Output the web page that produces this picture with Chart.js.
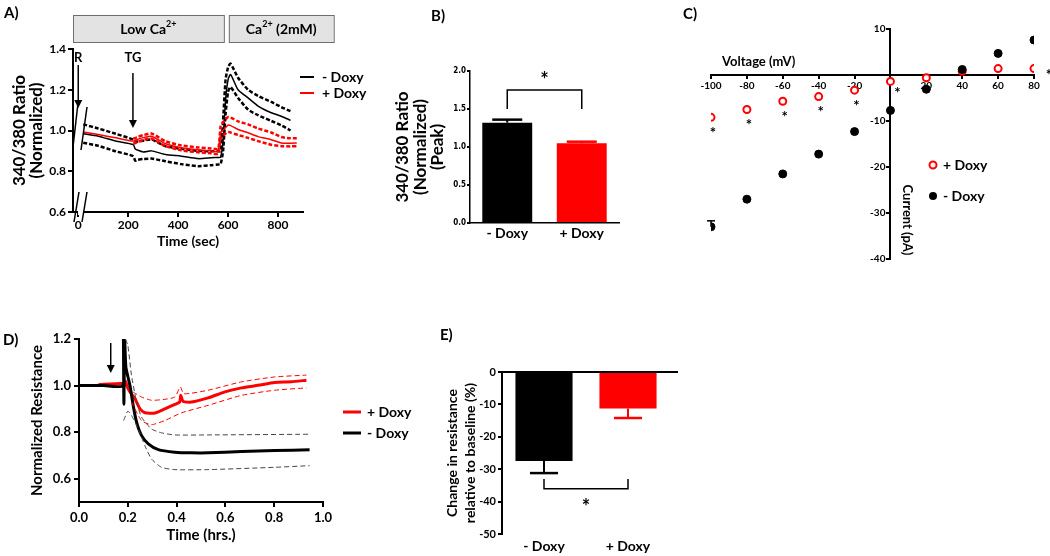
<!DOCTYPE html>
<html>
<head>
<meta charset="utf-8">
<script src="https://cdn.jsdelivr.net/npm/chart.js@4.4.1/dist/chart.umd.min.js"></script>
<style>
  body { margin: 0; background: #fff; width: 1050px; height: 556px; position: relative; overflow: hidden; }
  .panel { position: absolute; }
</style>
</head>
<body>
<div class="panel" style="left:0;top:0;width:370px;height:255px"><canvas id="chartA"></canvas></div>
<div class="panel" style="left:340px;top:0;width:300px;height:250px"><canvas id="chartB"></canvas></div>
<div class="panel" style="left:675px;top:0;width:375px;height:280px"><canvas id="chartC"></canvas></div>
<div class="panel" style="left:0;top:320px;width:420px;height:236px"><canvas id="chartD"></canvas></div>
<div class="panel" style="left:420px;top:320px;width:280px;height:236px"><canvas id="chartE"></canvas></div>
<script>
// ---- A) Fura-2 ratio traces ----
const aTime       = [20, 80, 150, 220, 228, 235, 260, 293, 350, 413, 480, 533, 560, 570, 580, 590, 600, 610, 640, 680, 720, 773, 813, 850, 875];
const aBlackMean  = [0.984, 0.972, 0.948, 0.931, 0.91, 0.905, 0.895, 0.90, 0.882, 0.874, 0.862, 0.866, 0.868, 0.869, 0.95, 1.15, 1.25, 1.275, 1.20, 1.16, 1.12, 1.087, 1.07, 1.05, null];
const aBlackUpper = [1.03, 1.01, 0.984, 0.956, 0.95, 0.945, 0.95, 0.956, 0.923, 0.91, 0.90, 0.898, 0.898, 0.90, 1.05, 1.25, 1.31, 1.328, 1.259, 1.20, 1.17, 1.14, 1.115, 1.095, null];
const aBlackLower = [0.94, 0.925, 0.898, 0.874, 0.852, 0.855, 0.86, 0.862, 0.849, 0.835, 0.825, 0.83, 0.833, 0.835, 0.90, 1.08, 1.19, 1.213, 1.16, 1.103, 1.075, 1.047, 1.025, 1.0, null];
const aRedMean    = [0.993, 0.98, 0.964, 0.948, 0.95, 0.955, 0.965, 0.972, 0.935, 0.915, 0.905, 0.90, 0.898, 0.99, 1.0, 1.015, 1.026, 1.024, 1.005, 0.989, 0.97, 0.955, 0.939, 0.938, 0.939];
const aRedUpper   = [null, null, null, 0.96, 0.962, 0.967, 0.977, 0.985, 0.947, 0.927, 0.917, 0.912, 0.91, 1.02, 1.04, 1.055, 1.066, 1.064, 1.045, 1.03, 1.01, 0.99, 0.968, 0.962, 0.962];
const aRedLower   = [null, null, null, 0.936, 0.938, 0.943, 0.953, 0.96, 0.923, 0.903, 0.893, 0.888, 0.886, 0.96, 0.975, 0.985, 0.993, 0.99, 0.978, 0.964, 0.948, 0.93, 0.923, 0.922, 0.923];
const aXTicks = [0, 200, 400, 600, 800];
const aPhaseLabels = ['Low Ca', 'Ca'];
const aPhaseStart  = [-21, 603];
const aPhaseEnd    = [583, 1023];
const aMarkers     = ['R', 'TG'];
const aMarkerTimes = [0, 219];

// ---- B) peak ratio ----
const groups = ['- Doxy', '+ Doxy'];
const bPeak    = [1.32, 1.05];
const bPeakErr = [0.04, 0.02];

// ---- C) I-V relation ----
const cVoltage   = [-100, -80, -60, -40, -20, 0, 20, 40, 60, 80];
const cPlusDoxy  = [-9.2, -7.5, -5.7, -4.7, -3.3, -1.4, -0.6, 0.8, 1.4, 1.4];
const cMinusDoxy = [-33.0, -27.0, -21.5, -17.2, -12.3, -7.7, -3.1, 1.2, 4.7, 7.6];
const cMinusErr  = [1.3, 0, 0, 0, 0, 0, 0, 0, 0, 0];
const cSignif    = [1, 1, 1, 1, 1, 1, 0, 0, 0, 1];

// ---- D) normalized resistance ----
const dBlackT     = [0, 0.1, 0.180, 0.182, 0.184, 0.187, 0.192, 0.2, 0.209, 0.222, 0.236, 0.256, 0.284, 0.325, 0.393, 0.461, 0.529, 0.666, 0.802, 0.945];
const dBlackMean  = [1.0, 1.0, 1.0, 1.2, 0.92, 1.2, 1.08, 1.04, 1.0, 0.915, 0.843, 0.786, 0.75, 0.725, 0.714, 0.711, 0.711, 0.717, 0.721, 0.724];
const dBlackUpT   = [0.19, 0.2, 0.215, 0.236, 0.256, 0.297, 0.338, 0.393, 0.529, 0.945];
const dBlackUpper = [1.2, 1.174, 1.045, 0.93, 0.865, 0.814, 0.797, 0.788, 0.788, 0.791];
const dBlackLoT   = [0.183, 0.2, 0.215, 0.243, 0.27, 0.297, 0.338, 0.393, 0.529, 0.802, 0.945];
const dBlackLower = [0.85, 0.89, 0.872, 0.814, 0.742, 0.685, 0.649, 0.639, 0.639, 0.649, 0.656];
const dRedT       = [0.079, 0.181, 0.185, 0.19, 0.2, 0.209, 0.229, 0.25, 0.27, 0.311, 0.352, 0.393, 0.413, 0.417, 0.427, 0.461, 0.529, 0.598, 0.666, 0.734, 0.802, 0.87, 0.932];
const dRedMean    = [1.004, 1.009, 1.0, 1.02, 0.99, 0.973, 0.944, 0.90, 0.883, 0.882, 0.90, 0.919, 0.93, 0.958, 0.932, 0.929, 0.947, 0.973, 0.99, 1.001, 1.013, 1.016, 1.023];
const dRedUpT     = [0.22, 0.256, 0.297, 0.352, 0.393, 0.415, 0.43, 0.529, 0.666, 0.802, 0.932];
const dRedUpper   = [0.973, 0.951, 0.937, 0.941, 0.951, 0.994, 0.965, 0.98, 1.016, 1.037, 1.045];
const dRedLoT     = [0.215, 0.256, 0.297, 0.352, 0.42, 0.529, 0.666, 0.802, 0.932];
const dRedLower   = [0.93, 0.85, 0.832, 0.85, 0.883, 0.915, 0.958, 0.98, 0.99];
const dYTicks = [0.6, 0.8, 1.0, 1.2];
const dStimTime = 0.13;

// ---- E) change in resistance ----
const eChange    = [-27.5, -11.3];
const eChangeErr = [3.7, 2.9];

const FONT = 'Lato, "Open Sans", sans-serif';
const RED = '#ff0000';
Chart.defaults.font.family = FONT;
Chart.defaults.font.weight = 'bold';
Chart.defaults.color = '#000';
Chart.defaults.animation = false;
Chart.defaults.plugins.legend.display = false;
Chart.defaults.plugins.tooltip.enabled = false;

const pts = (xs, ys) => xs.map((x, i) => ({ x: x, y: ys[i] }));

function line(xs, ys, color, width, dash) {
  return { data: pts(xs, ys), borderColor: color, borderWidth: width, borderDash: dash || [],
           pointRadius: 0, fill: false, tension: 0.2, spanGaps: false };
}

function axisGrid(len) {
  return { display: true, drawOnChartArea: false, drawTicks: true, tickLength: len, color: '#000', lineWidth: 2 };
}
const noGrid = { display: false, drawTicks: false, tickLength: 0 };

function text(ctx, s, x, y, size, align, color, base) {
  ctx.save();
  ctx.font = 'bold ' + size + 'px ' + FONT;
  ctx.fillStyle = color || '#000';
  ctx.textAlign = align || 'left';
  ctx.textBaseline = base || 'middle';
  ctx.fillText(s, x, y);
  ctx.restore();
}

function arrowDown(ctx, x, y1, y2) {
  ctx.save();
  ctx.strokeStyle = '#000'; ctx.fillStyle = '#000'; ctx.lineWidth = 1.5;
  ctx.beginPath(); ctx.moveTo(x, y1); ctx.lineTo(x, y2 - 6); ctx.stroke();
  ctx.beginPath(); ctx.moveTo(x - 4, y2 - 8); ctx.lineTo(x + 4, y2 - 8); ctx.lineTo(x, y2); ctx.closePath(); ctx.fill();
  ctx.restore();
}

function seg(ctx, x1, y1, x2, y2, color, w) {
  ctx.save();
  ctx.strokeStyle = color || '#000'; ctx.lineWidth = w || 1.5;
  ctx.beginPath(); ctx.moveTo(x1, y1); ctx.lineTo(x2, y2); ctx.stroke();
  ctx.restore();
}

// Ca2+ style label with superscript
function caLabel(ctx, before, after, cx, y) {
  ctx.save();
  ctx.font = 'bold 14px ' + FONT;
  const w1 = ctx.measureText(before).width;
  ctx.font = 'bold 9px ' + FONT;
  const w2 = ctx.measureText('2+').width;
  ctx.font = 'bold 14px ' + FONT;
  const w3 = ctx.measureText(after).width;
  let x = cx - (w1 + w2 + w3) / 2;
  ctx.fillStyle = '#000'; ctx.textBaseline = 'middle'; ctx.textAlign = 'left';
  ctx.fillText(before, x, y);
  ctx.font = 'bold 9px ' + FONT;
  ctx.fillText('2+', x + w1, y - 5);
  ctx.font = 'bold 14px ' + FONT;
  ctx.fillText(after, x + w1 + w2, y);
  ctx.restore();
}

// error bars + bracket for the two bar panels
function barDecor(chart, vals, errs, colors, capW, dir) {
  const ctx = chart.ctx, x = chart.scales.x, y = chart.scales.y;
  vals.forEach((v, i) => {
    const cx = x.getPixelForValue(i);
    const y0 = y.getPixelForValue(v), y1 = y.getPixelForValue(v + dir * errs[i]);
    seg(ctx, cx, y0, cx, y1, colors[i], 2);
    seg(ctx, cx - capW / 2, y1, cx + capW / 2, y1, colors[i], 2.5);
  });
}

function bracket(chart, level, ends, starVal) {
  const ctx = chart.ctx, x = chart.scales.x, y = chart.scales.y;
  const xa = x.getPixelForValue(0), xb = x.getPixelForValue(1);
  const yl = y.getPixelForValue(level), ye = y.getPixelForValue(ends);
  ctx.save();
  ctx.strokeStyle = '#000'; ctx.lineWidth = 1.5;
  ctx.beginPath(); ctx.moveTo(xa, ye); ctx.lineTo(xa, yl); ctx.lineTo(xb, yl); ctx.lineTo(xb, ye); ctx.stroke();
  ctx.restore();
  text(ctx, '*', (xa + xb) / 2, y.getPixelForValue(starVal) + 4, 20, 'center');
}

// ================= A =================
new Chart(document.getElementById('chartA'), {
  type: 'line',
  data: { datasets: [
    line(aTime, aRedUpper, RED, 2.5, [4, 2]),
    line(aTime, aRedLower, RED, 2.5, [4, 2]),
    line(aTime, aRedMean, RED, 1.5),
    line(aTime, aBlackUpper, '#000', 2.5, [4, 2]),
    line(aTime, aBlackLower, '#000', 2.5, [4, 2]),
    line(aTime, aBlackMean, '#000', 1.5)
  ]},
  options: {
    responsive: true, maintainAspectRatio: false,
    layout: { padding: { top: 49, right: 67, left: 0, bottom: 0 } },
    scales: {
      x: { type: 'linear', min: -21, max: 900,
           afterFit: s => { s.height = 43; },
           afterBuildTicks: s => { s.ticks = aXTicks.map(v => ({ value: v })); },
           grid: axisGrid(5), border: { color: '#000', width: 2 },
           ticks: { font: { size: 12 }, padding: 1, maxRotation: 0 },
           title: { display: true, text: 'Time (sec)', font: { size: 14 }, padding: { bottom: 5 } } },
      y: { type: 'linear', min: 0.6, max: 1.4,
           afterFit: s => { s.width = 73; },
           grid: axisGrid(5), border: { color: '#000', width: 2 },
           ticks: { stepSize: 0.2, font: { size: 12 }, padding: 2, callback: v => v.toFixed(1) },
           title: { display: true, text: ['340/380 Ratio', '(Normalized)'], font: { size: 17, lineHeight: 1.0 }, padding: { top: 11 } } }
    }
  },
  plugins: [{
    id: 'decorA',
    afterDraw(chart) {
      const ctx = chart.ctx, x = chart.scales.x;
      text(ctx, 'A)', 4, 13, 15, 'left');
      // phase boxes
      aPhaseLabels.forEach((lab, i) => {
        const x1 = Math.max(x.getPixelForValue(aPhaseStart[i]), 73);
        const x2 = x.getPixelForValue(aPhaseEnd[i]);
        ctx.save();
        ctx.fillStyle = '#e3e3e3'; ctx.strokeStyle = '#6e6e6e'; ctx.lineWidth = 1;
        ctx.fillRect(x1, 15, x2 - x1, 27); ctx.strokeRect(x1 + 0.5, 15.5, x2 - x1, 27);
        ctx.restore();
        caLabel(ctx, lab, i === 0 ? '' : ' (2mM)', (x1 + x2) / 2, 29);
      });
      // R / TG arrows
      const tops = [65, 73], bottoms = [108, 128];
      aMarkers.forEach((m, i) => {
        const px = x.getPixelForValue(aMarkerTimes[i]);
        text(ctx, m, px, 58, 13, 'center');
        arrowDown(ctx, px, tops[i], bottoms[i]);
      });
      // axis break marks
      ctx.save();
      ctx.fillStyle = '#fff'; ctx.fillRect(78, 205, 6, 10);
      ctx.restore();
      seg(ctx, 73, 147, 78, 103, '#000', 1.5);
      seg(ctx, 81, 150, 87, 107, '#000', 1.5);
      seg(ctx, 74, 222, 79, 192, '#000', 1.5);
      seg(ctx, 82, 222, 87, 192, '#000', 1.5);
      // legend
      seg(ctx, 300, 77, 314, 77, '#000', 2);
      seg(ctx, 300, 93, 314, 93, RED, 2);
      text(ctx, '- Doxy', 322, 77, 14);
      text(ctx, '+ Doxy', 322, 93, 14);
    }
  }]
});

// ================= B =================
new Chart(document.getElementById('chartB'), {
  type: 'bar',
  data: { labels: groups, datasets: [{ data: bPeak, backgroundColor: ['#000', RED], barPercentage: 1, categoryPercentage: 0.67 }] },
  options: {
    responsive: true, maintainAspectRatio: false,
    layout: { padding: { top: 71, right: 21, left: 0, bottom: 0 } },
    scales: {
      x: { afterFit: s => { s.height = 27; },
           grid: noGrid, border: { color: '#000', width: 1.5 },
           ticks: { font: { size: 14 }, padding: 2 } },
      y: { min: 0, max: 2, afterFit: s => { s.width = 130; },
           grid: axisGrid(3), border: { color: '#000', width: 1.5 },
           ticks: { stepSize: 0.5, font: { size: 8, family: '"Liberation Sans Narrow", "DejaVu Sans Condensed", sans-serif' }, padding: 1, callback: v => v.toFixed(1) },
           title: { display: true, text: ['340/380 Ratio', '(Normalized)', '(Peak)'], font: { size: 17, lineHeight: 1.03 }, padding: { top: 54 } } }
    }
  },
  plugins: [{
    id: 'decorB',
    afterDraw(chart) {
      text(chart.ctx, 'B)', 91, 16, 15, 'left');
      barDecor(chart, bPeak, bPeakErr, ['#000', RED], 30, 1);
      bracket(chart, 1.75, 1.5, 1.93);
    }
  }]
});

// ================= C =================
new Chart(document.getElementById('chartC'), {
  type: 'scatter',
  data: { datasets: [
    { data: pts(cVoltage, cMinusDoxy), pointRadius: 4, pointBackgroundColor: '#000', pointBorderColor: '#000', pointBorderWidth: 1 },
    { data: pts(cVoltage, cPlusDoxy), pointRadius: 3.5, pointBackgroundColor: '#fff', pointBorderColor: RED, pointBorderWidth: 2 }
  ]},
  options: {
    responsive: true, maintainAspectRatio: false,
    layout: { padding: { top: 29, right: 16, left: 36, bottom: 21 } },
    scales: {
      x: { type: 'linear', min: -100, max: 80, position: { y: 0 },
           grid: axisGrid(3), border: { color: '#000', width: 2 },
           ticks: { stepSize: 20, font: { size: 10 }, padding: 2, maxRotation: 0, callback: v => v === 0 ? '' : v } },
      y: { type: 'linear', min: -40, max: 10, position: { x: 0 },
           grid: axisGrid(3), border: { color: '#000', width: 2 },
           ticks: { stepSize: 10, display: false } }
    }
  },
  plugins: [{
    id: 'decorC',
    beforeDatasetsDraw(chart) {
      const ctx = chart.ctx, x = chart.scales.x, y = chart.scales.y;
      cMinusErr.forEach((e, i) => {
        if (!e) return;
        const px = x.getPixelForValue(cVoltage[i]);
        const y0 = y.getPixelForValue(cMinusDoxy[i]), y1 = y.getPixelForValue(cMinusDoxy[i] + e);
        seg(ctx, px, y0, px, y1, '#000', 1.5);
        seg(ctx, px - 4, y1, px + 4, y1, '#000', 1.5);
      });
    },
    afterDraw(chart) {
      const ctx = chart.ctx, x = chart.scales.x, y = chart.scales.y;
      // y tick labels on the left of the crossing axis
      const x0 = x.getPixelForValue(0);
      y.ticks.forEach(t => {
        if (t.value === 0) return;
        text(ctx, String(t.value), x0 - 5, y.getPixelForValue(t.value), 10, 'right');
      });
      text(ctx, 'C)', 8, 14, 15, 'left');
      text(ctx, 'Voltage (mV)', 47, 62, 13, 'left');
      ctx.save();
      ctx.translate(232, 220); ctx.rotate(Math.PI / 2);
      text(ctx, 'Current (pA)', 0, 0, 13, 'center');
      ctx.restore();
      cSignif.forEach((s, i) => {
        if (!s) return;
        const px = x.getPixelForValue(cVoltage[i]), py = y.getPixelForValue(cPlusDoxy[i]);
        const dx = i === 5 ? 7 : (i === 9 ? 15 : 2), dy = i === 5 ? 12 : (i === 9 ? 7 : 16);
        text(ctx, '*', px + dx, py + dy, 15, 'center');
      });
      // legend
      ctx.save();
      ctx.strokeStyle = RED; ctx.lineWidth = 2; ctx.fillStyle = '#fff';
      ctx.beginPath(); ctx.arc(258, 165, 3.5, 0, Math.PI * 2); ctx.fill(); ctx.stroke();
      ctx.fillStyle = '#000';
      ctx.beginPath(); ctx.arc(258, 196, 4, 0, Math.PI * 2); ctx.fill();
      ctx.restore();
      text(ctx, '+ Doxy', 268, 165, 14);
      text(ctx, '- Doxy', 268, 196, 14);
    }
  }]
});

// ================= D =================
new Chart(document.getElementById('chartD'), {
  type: 'line',
  data: { datasets: [
    line(dBlackUpT, dBlackUpper, '#444', 1, [5, 3]),
    line(dBlackLoT, dBlackLower, '#444', 1, [5, 3]),
    line(dRedUpT, dRedUpper, RED, 1, [5, 3]),
    line(dRedLoT, dRedLower, RED, 1, [5, 3]),
    line(dBlackT, dBlackMean, '#000', 3),
    line(dRedT, dRedMean, RED, 3)
  ]},
  options: {
    responsive: true, maintainAspectRatio: false,
    layout: { padding: { top: 19, right: 97, left: 0, bottom: 0 } },
    elements: { line: { tension: 0.15 } },
    scales: {
      x: { type: 'linear', min: 0, max: 1.0,
           afterFit: s => { s.height = 54; },
           grid: axisGrid(5), border: { color: '#000', width: 2 },
           ticks: { stepSize: 0.2, font: { size: 13 }, padding: 3, callback: v => v.toFixed(1) },
           title: { display: true, text: 'Time (hrs.)', font: { size: 15 }, padding: { bottom: 12 } } },
      y: { type: 'linear', min: 0.5, max: 1.2,
           afterFit: s => { s.width = 79; },
           afterBuildTicks: s => { s.ticks = dYTicks.map(v => ({ value: v })); },
           grid: axisGrid(5), border: { color: '#000', width: 2 },
           ticks: { font: { size: 13 }, padding: 3, callback: v => v.toFixed(1) },
           title: { display: true, text: 'Normalized Resistance', font: { size: 15 }, padding: { top: 28 } } }
    }
  },
  plugins: [{
    id: 'decorD',
    afterDraw(chart) {
      const ctx = chart.ctx, x = chart.scales.x;
      text(ctx, 'D)', 3, 20, 15, 'left');
      arrowDown(ctx, x.getPixelForValue(dStimTime), 23, 53);
      seg(ctx, 343, 92, 361, 92, RED, 3);
      seg(ctx, 343, 113, 361, 113, '#000', 3);
      text(ctx, '+ Doxy', 367, 92, 14);
      text(ctx, '- Doxy', 367, 113, 14);
    }
  }]
});

// ================= E =================
new Chart(document.getElementById('chartE'), {
  type: 'bar',
  data: { labels: groups, datasets: [{ data: eChange, backgroundColor: ['#000', RED], barPercentage: 1, categoryPercentage: 0.68 }] },
  options: {
    responsive: true, maintainAspectRatio: false,
    layout: { padding: { top: 52, right: 30, left: 0, bottom: 0 } },
    scales: {
      x: { afterFit: s => { s.height = 22; },
           grid: noGrid, border: { display: false },
           ticks: { font: { size: 14 }, padding: 4 } },
      y: { min: -50, max: 0, afterFit: s => { s.width = 82; },
           grid: { display: true, drawOnChartArea: true, drawTicks: true, tickLength: 4, lineWidth: 2, tickColor: '#000',
                   color: c => (c.tick && c.tick.value === 0) ? '#000' : 'rgba(0,0,0,0)' },
           border: { color: '#000', width: 2 },
           ticks: { stepSize: 10, font: { size: 11 }, padding: 2 },
           title: { display: true, text: ['Change in resistance', 'relative to baseline (%)'], font: { size: 14, lineHeight: 1.3 }, padding: { top: 23 } } }
    }
  },
  plugins: [{
    id: 'decorE',
    afterDraw(chart) {
      const ctx = chart.ctx, y = chart.scales.y;
      text(ctx, 'E)', 20, 15, 15, 'left');
      // top axis line runs a little past the plot area
      seg(ctx, chart.chartArea.right - 1, y.getPixelForValue(0), chart.chartArea.right + 8, y.getPixelForValue(0), '#000', 2);
      barDecor(chart, eChange, eChangeErr, ['#000', RED], 28, -1);
      bracket(chart, -36, -33, -40.5);
    }
  }]
});
</script>
</body>
</html>
